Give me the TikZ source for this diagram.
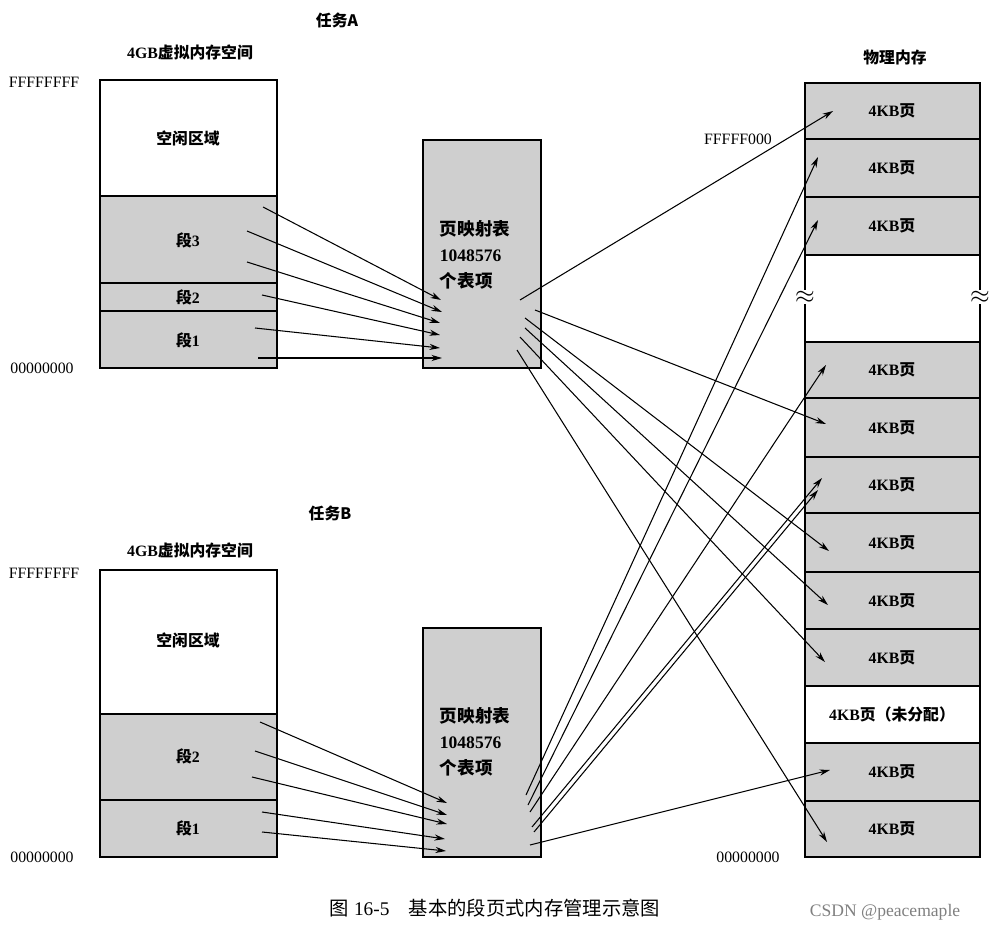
\documentclass[tikz,border=0pt]{standalone}
\usepackage{fontspec}
\setmainfont{Liberation Serif}
\newfontfamily\cjk{Noto Sans CJK SC}
\newcommand{\zh}[1]{{\cjk #1}}
\usetikzlibrary{arrows.meta}
\begin{document}
\begin{tikzpicture}[x=0.02cm,y=-0.02cm,
  gbox/.style={draw=black,line width=0.9pt,fill=gray!38},
  wbox/.style={draw=black,line width=0.9pt,fill=white},
  lab/.style={font=\fontsize{9}{12}\selectfont\bfseries},
  tlab/.style={font=\fontsize{9}{12}\selectfont},
  arr/.style={-{Stealth[length=6pt,width=3.5pt]},line width=0.6pt}]
\useasboundingbox (0,0) rectangle (1004,932);
% Task A
\node[lab] (tA) at (337,20) {\zh{任务A}};
\node[lab] (vA) at (190,52) {4GB\zh{虚拟内存空间}};
\node[tlab] (fA) at (44,82) {FFFFFFFF};
\node[tlab] (zA) at (42,368) {00000000};
\draw[wbox] (100,80) rectangle (277,196);
\draw[gbox] (100,196) rectangle (277,283);
\draw[gbox] (100,283) rectangle (277,311);
\draw[gbox] (100,311) rectangle (277,368);
\node[lab] (kA) at (188,138) {\zh{空闲区域}};
\node[lab] (s3A) at (188,240) {\zh{段}3};
\node[lab] (s2A) at (188,297) {\zh{段}2};
\node[lab] (s1A) at (188,340) {\zh{段}1};
\draw[gbox] (423,140) rectangle (541,368);
\node[lab,align=left,font=\fontsize{10}{15}\selectfont\bfseries] (ptA) at (475,255) {\zh{页映射表}\\1048576\\\zh{个表项}};
% Task B
\node[lab] (tB) at (330,513) {\zh{任务B}};
\node[lab] (vB) at (190,550) {4GB\zh{虚拟内存空间}};
\node[tlab] (fB) at (44,573) {FFFFFFFF};
\node[tlab] (zB) at (42,857) {00000000};
\draw[wbox] (100,570) rectangle (277,714);
\draw[gbox] (100,714) rectangle (277,800);
\draw[gbox] (100,800) rectangle (277,857);
\node[lab] (kB) at (188,640) {\zh{空闲区域}};
\node[lab] (s2B) at (188,756) {\zh{段}2};
\node[lab] (s1B) at (188,828) {\zh{段}1};
\draw[gbox] (423,628) rectangle (541,857);
\node[lab,align=left,font=\fontsize{10}{15}\selectfont\bfseries] (ptB) at (475,742) {\zh{页映射表}\\1048576\\\zh{个表项}};
% Physical memory
\node[lab] (pm) at (895,58) {\zh{物理内存}};
\node[tlab] (ff0) at (738,139) {FFFFF000};
\node[tlab] (z0) at (748,857) {00000000};
\foreach \a/\b in {83/139,139/197,197/255,342/398,398/457,457/513,513/572,572/629,629/686,743/801,801/857}{
  \draw[gbox] (805,\a) rectangle (980,\b);
  \node[lab] at (892,{(\a+\b)/2}) {4KB\zh{页}};
}
\draw[line width=0.9pt] (805,255) -- (805,342) (980,255) -- (980,342);
\draw[wbox] (805,686) rectangle (980,743);
\node[lab] (un) at (892,714) {4KB\zh{页（未分配）}};
\node[fill=white,inner sep=0.5pt,font=\Large] (ap1) at (805,297) {$\approx$};
\node[fill=white,inner sep=0.5pt,font=\Large] (ap2) at (980,297) {$\approx$};
% virtual space to page tables
\foreach \sx/\sy/\ex/\ey in {263/207/441/300,247/231/442/312,247/262/440/323,262/295/440/335,255/328/440/348,258/358/442/358,
  260/722/447/803,255/751/447/815,252/777/447/824,262/812/445/839,262/832/446/851}{
  \coordinate (s) at (\sx,\sy); \coordinate (e) at (\ex,\ey);
  \draw[arr] (s) -- (e);
}
% page tables to physical
\foreach \sx/\sy/\ex/\ey in {520/300/833/111,535/310/826/424,525/318/829/551,525/328/828/605,520/337/825/662,517/350/827/842,
  526/795/818/157,528/805/818/220,530/812/826/365,532/827/822/478,534/832/818/490,530/845/830/770}{
  \coordinate (s) at (\sx,\sy); \coordinate (e) at (\ex,\ey);
  \draw[arr] (s) -- (e);
}
\node (cap) at (495,908) {\fontsize{11}{13}\selectfont\zh{图} 16-5\quad\zh{基本的段页式内存管理示意图}};
\node[text=gray] (wm) at (885,912) {\fontsize{10}{12}\selectfont CSDN @peacemaple};
\end{tikzpicture}
\end{document}
